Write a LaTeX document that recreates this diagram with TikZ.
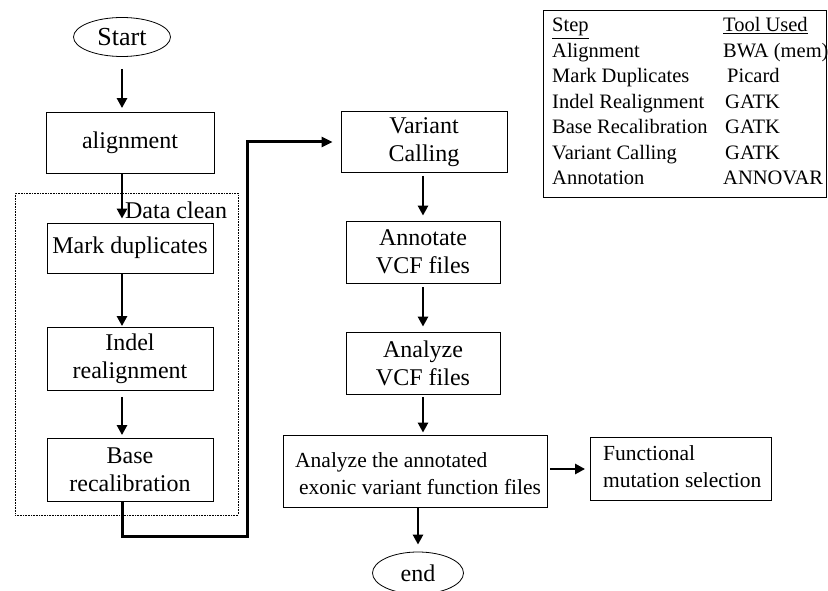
\documentclass[tikz,border=0pt]{standalone}
\usepackage{fontspec}
\setmainfont{Liberation Serif}
\usetikzlibrary{shapes.geometric,arrows.meta}
\begin{document}
\begin{tikzpicture}[x=1pt,y=-1pt,
  box/.style={draw, line width=0.8pt, inner sep=0pt, font=\fontsize{24}{28}\selectfont, align=center},
  oval/.style={box, ellipse},
  arr/.style={line width=2.5pt, -{Triangle[length=10pt,width=10pt]}},
  thickarr/.style={line width=3pt, -{Triangle[length=11pt,width=10pt]}},
  cell/.style={anchor=base west, inner sep=0pt, font=\fontsize{20.5}{24}\selectfont},
  freetext/.style={anchor=west, inner sep=0pt, align=left, font=\fontsize{21.5}{27}\selectfont}
]
\useasboundingbox (0,0) rectangle (828,591);

% left column
\node[oval, minimum width=97, minimum height=39, font=\fontsize{26}{30}\selectfont] (start) at (122,37) {Start};
\node[box, minimum width=168, minimum height=61] (align) at (130,143) {alignment};
\node[draw, densely dotted, line width=0.6pt, inner sep=0pt, minimum width=223, minimum height=322] (dc) at (126.5,354) {};
\node[anchor=base east, inner sep=0pt, font=\fontsize{24}{28}\selectfont] (dclabel) at ([xshift=-11pt, yshift=-26pt]dc.north east) {Data clean};
\node[box, minimum width=166, minimum height=50] (mark) at (130,248) {Mark duplicates};
\node[box, minimum width=166, minimum height=63] (indel) at (130,359) {Indel\\realignment};
\node[box, minimum width=166, minimum height=63] (base) at (130,470) {Base\\recalibration};

% middle column
\node[box, minimum width=166, minimum height=61] (vc) at (424,142) {Variant\\Calling};
\node[box, minimum width=154, minimum height=62] (annot) at (423,252) {Annotate\\VCF files};
\node[box, minimum width=154, minimum height=62] (anvcf) at (423,363) {Analyze\\VCF files};
\node[box, minimum width=264, minimum height=72] (big) at (415,471) {};
\node[freetext] (bigtext) at (295,474) {Analyze the annotated\\\hspace*{4pt}exonic variant function files};
\node[box, minimum width=181, minimum height=63] (func) at (681,469) {};
\node[freetext] (functext) at (603,467) {Functional\\mutation selection};
\node[oval, minimum width=91, minimum height=42] (end) at (418,573) {end};

% arrows
\draw[arr, shorten <=12pt, shorten >=4pt] (start.south) -- (start.south |- align.north);
\draw[arr, shorten >=4pt] (align.south -| start) -- (mark.north -| start);
\draw[arr, shorten >=1pt] (mark.south -| start) -- (indel.north -| start);
\draw[arr, shorten <=6pt, shorten >=3pt] (indel.south -| start) -- (base.north -| start);
\coordinate (c1) at (247,536);
\draw[thickarr, shorten >=8pt] (base.south -| start) |- (c1) |- (vc.west);
\draw[arr, shorten <=3pt, shorten >=5pt] (vc.south -| annot) -- (annot.north);
\draw[arr, shorten <=4pt, shorten >=5pt] (annot.south) -- (anvcf.north);
\draw[arr, shorten <=3pt, shorten >=2pt] (anvcf.south) -- (anvcf.south |- big.north);
\draw[arr, shorten >=7pt] (big.south -| end) -- (end.north);
\draw[arr, shorten <=3pt, shorten >=5pt] (big.east |- func) -- (func.west);

% table
\node[draw, line width=0.8pt, inner sep=0pt, minimum width=283, minimum height=187] (tbl) at (684.5,103.5) {};
\node[cell] (s0) at (552,32) {\underline{Step}};
\node[cell] (s1) at (552,57.5) {Alignment};
\node[cell] (s2) at (552,83) {Mark Duplicates};
\node[cell] (s3) at (552,108.5) {Indel Realignment};
\node[cell] (s4) at (552,134) {Base Recalibration};
\node[cell] (s5) at (552,159.5) {Variant Calling};
\node[cell] (s6) at (552,185) {Annotation};
\node[cell] (t0) at (723,32) {\underline{Tool Used}};
\node[cell] (t1) at (723,57.5) {BWA (mem)};
\node[cell] (t2) at (727,83) {Picard};
\node[cell] (t3) at (725,108.5) {GATK};
\node[cell] (t4) at (725,134) {GATK};
\node[cell] (t5) at (725,159.5) {GATK};
\node[cell] (t6) at (723,185) {ANNOVAR};
\end{tikzpicture}
\end{document}
